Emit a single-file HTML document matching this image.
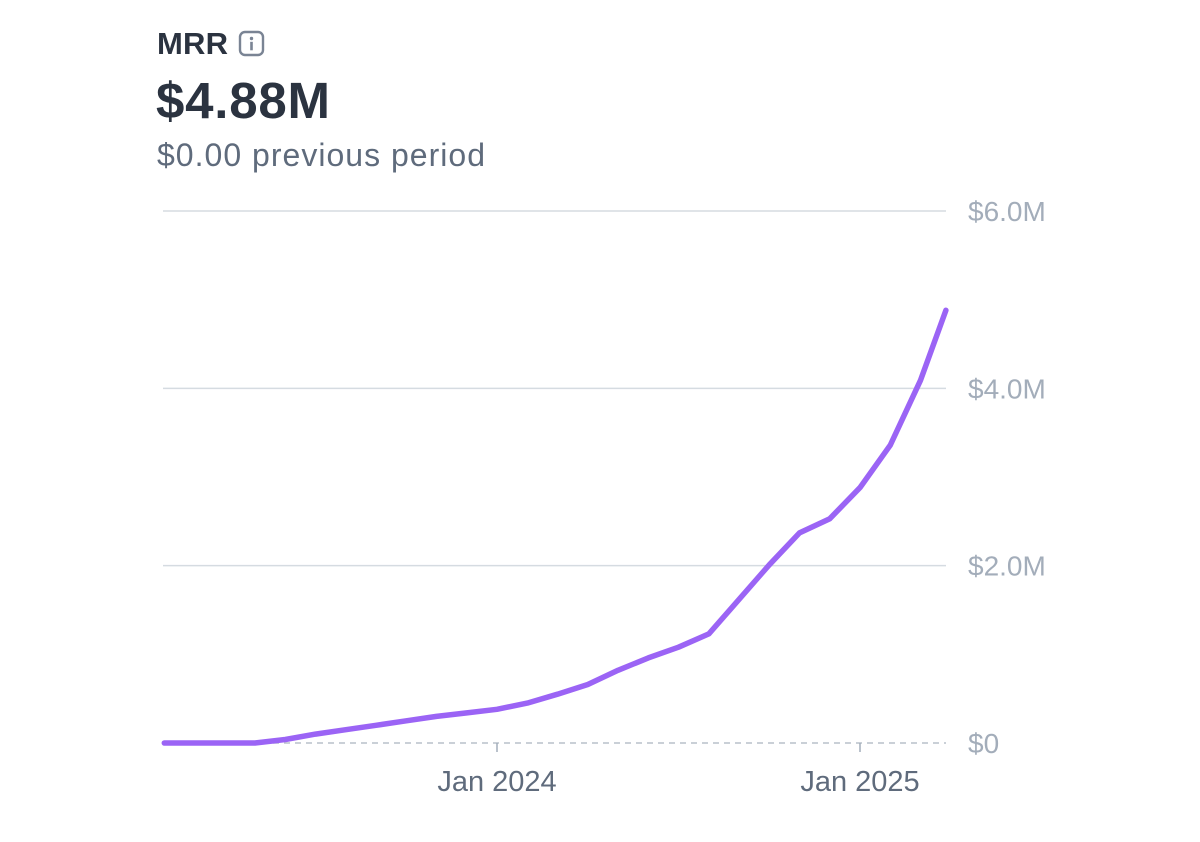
<!DOCTYPE html>
<html><head><meta charset="utf-8"><style>
body{margin:0;background:#fff;width:1200px;height:842px;overflow:hidden;font-family:"Liberation Sans",sans-serif;}
svg{position:absolute;left:0;top:0}
</style></head><body>
<svg width="1200" height="842">
<text x="157" y="54" font-size="31" font-weight="bold" fill="#2b3340" textLength="71">MRR</text>
<g>
<rect x="240" y="32" width="23" height="23" rx="5" fill="none" stroke="#7a8494" stroke-width="2.4"/>
<circle cx="251.5" cy="38.5" r="1.7" fill="#7a8494"/>
<rect x="250.2" y="41.8" width="2.6" height="8.5" fill="#7a8494"/>
</g>
<text x="156" y="118" font-size="51" font-weight="bold" fill="#2b3340" textLength="174">$4.88M</text>
<text x="157" y="166" font-size="32" fill="#5f6b7c" textLength="328">$0.00 previous period</text>
<g id="grid"></g><g id="axes"></g><g id="series"></g>
</svg>
<script>
const months=[1,2,3,4,5,6,7,8,9,10,11,12,13,14,15,16,17,18,19,20,21,22,23,24,25,26,26.84];
const mrrMillions=[0,0,0,0,0.04,0.1,0.15,0.2,0.25,0.3,0.34,0.38,0.45,0.55,0.66,0.82,0.96,1.08,1.23,1.62,2.01,2.37,2.53,2.88,3.36,4.09,4.88];
const yTicks=[0,2,4,6];
const yTickLabels=["$0","$2.0M","$4.0M","$6.0M"];
const xTicks=[12,24];
const xTickLabels=["Jan 2024","Jan 2025"];
const NS="http://www.w3.org/2000/svg";
function x(m){return 497+(m-12)*30.25;}
function y(v){return 743-v*88.67;}
function mk(t,a,p){const e=document.createElementNS(NS,t);for(const k in a)e.setAttribute(k,a[k]);p.appendChild(e);return e;}
const grid=document.getElementById('grid'),axes=document.getElementById('axes'),series=document.getElementById('series');
yTicks.forEach((v,i)=>{
  if(v>0){const l=mk('line',{x1:163,x2:946,y1:y(v),y2:y(v),stroke:'#d5dbe1','stroke-width':1.5},grid);
  
  }
  const t=mk('text',{x:968,y:y(v)+10,'font-size':28,fill:'#a3adba'},axes);
  t.textContent=yTickLabels[i];
  
  
});
const base=mk('line',{x1:163,x2:946,y1:743,y2:743,stroke:'#b8c0ca','stroke-width':1.5,'stroke-dasharray':'6 5'},grid);


xTicks.forEach((m,i)=>{
  const tk=mk('line',{x1:x(m),x2:x(m),y1:743,y2:752,stroke:'#a3adba','stroke-width':1.5},axes);
  
  
  const t=mk('text',{x:x(m),y:791,'font-size':29,fill:'#5f6b7c','text-anchor':'middle'},axes);
  t.textContent=xTickLabels[i];
  
  
});
const d=months.map((m,i)=>(i?'L':'M')+x(m).toFixed(1)+' '+y(mrrMillions[i]).toFixed(1)).join(' ');
const p=mk('path',{d:d,fill:'none',stroke:'#9b64f5','stroke-width':5.5,'stroke-linejoin':'round','stroke-linecap':'round'},series);


</script>
</body></html>
